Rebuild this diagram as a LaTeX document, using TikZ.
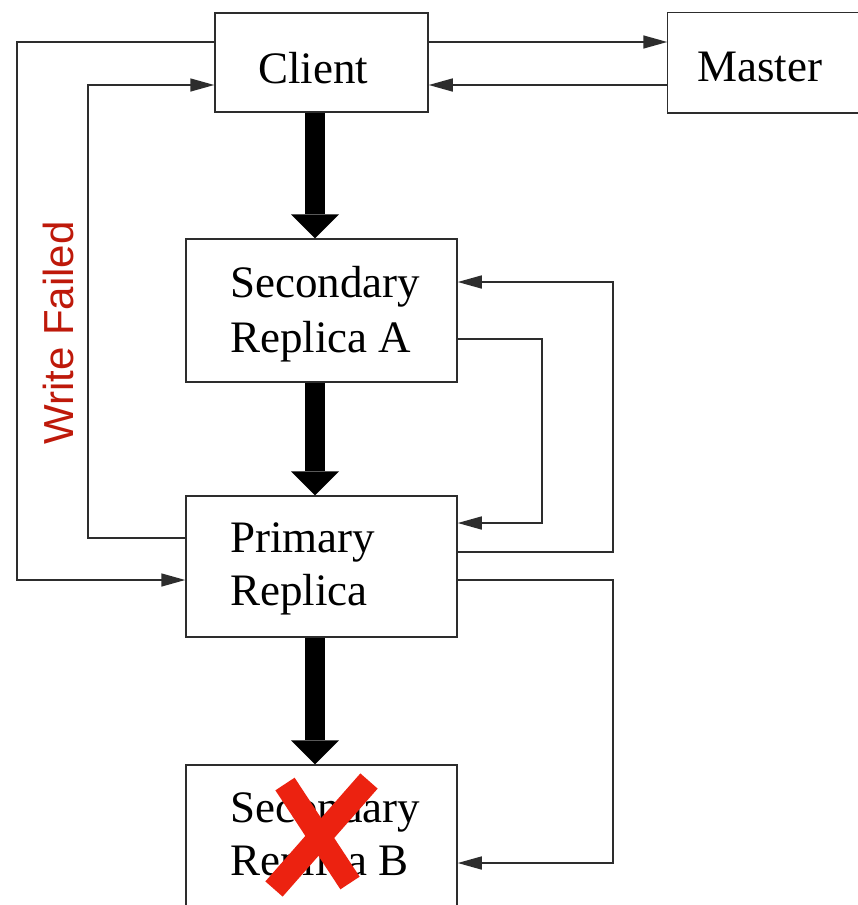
\documentclass[tikz,border=0pt]{standalone}
\usepackage{fontspec}
\setmainfont{Liberation Serif}
\newfontfamily\labelsans{Liberation Sans}
\usetikzlibrary{arrows.meta}
\definecolor{failred}{RGB}{190,25,10}
\definecolor{crossred}{RGB}{236,34,16}
\definecolor{edge}{RGB}{45,45,45}
\tikzset{
  box/.style={draw=edge, line width=1.5pt, fill=white, inner sep=0pt},
  boxtext/.style={anchor=base west, inner sep=0pt, font=\fontsize{45}{54}\selectfont},
  link/.style={draw=edge, line width=1.5pt, -{Triangle[length=24pt,width=13pt]}},
  flow/.style={line width=20pt, -{Triangle[length=24pt,width=48pt,line width=0pt]}},
  crossbar/.style={draw=crossred, line width=23pt},
}
\begin{document}
\begin{tikzpicture}[x=1pt,y=1pt]
\useasboundingbox (0,0) rectangle (858,-905);
\begin{scope}
\clip (0,0) rectangle (858,-905);
\fill[white] (0,0) rectangle (858,-905);

% boxes (Master and replica B run past the edge of the page)
\node[box, minimum width=213pt, minimum height=99pt]  (Client)  at (321.5,-62.5) {};
\node[box, draw=none, minimum width=260pt, minimum height=99pt] (Master) at (798,-62.5) {};
\draw[edge, line width=1.5pt] (Master.north east) -- (Master.north west)
  -- (Master.south west) -- (Master.south east);
\node[box, minimum width=271pt, minimum height=143pt] (SecA)    at (321.5,-310.5) {};
\node[box, minimum width=271pt, minimum height=141pt] (Primary) at (321.5,-566.5) {};
\node[box, minimum width=271pt, minimum height=160pt] (SecB)    at (321.5,-845) {};

% box labels
\node[boxtext] (clientlbl) at (258,-83) {Client};
\node[boxtext] (masterlbl) at (697,-81) {Master};
\node[boxtext] (secAone)   at (230,-297) {Secondary};
\node[boxtext] (secAtwo)   at (230,-352) {Replica A};
\node[boxtext] (primone)   at (230,-552) {Primary};
\node[boxtext] (primtwo)   at (230,-605) {Replica};
\node[boxtext] (secBone)   at (230,-822) {Secondary};
\node[boxtext] (secBtwo)   at (230,-875) {Replica B};

% data flow down the chain
\draw[flow] ([xshift=-6.5pt]Client.south) -- ([xshift=-6.5pt]SecA.north);
\draw[flow] ([xshift=-6.5pt]SecA.south) -- ([xshift=-6.5pt]Primary.north);
\draw[flow] ([xshift=-6.5pt]Primary.south) -- ([xshift=-6.5pt]SecB.north);

% client <-> master
\draw[link] (Client.east |- 0,-42) -- (Master.west |- 0,-42);
\draw[link] (Master.west |- 0,-85) -- (Client.east |- 0,-85);

% client <-> primary
\draw[link] (Client.west |- 0,-42) -| (17,-580) -- (Primary.west |- 0,-580);
\draw[link] (Primary.west |- 0,-538) -| (88,-85) -- (Client.west |- 0,-85);

% control messages between replicas
\draw[link] (SecA.east |- 0,-339) -| (542,-523) -- (Primary.east |- 0,-523);
\draw[link] (Primary.east |- 0,-552) -| (613,-282) -- (SecA.east |- 0,-282);
\draw[link] (Primary.east |- 0,-580) -| (613,-863) -- (SecB.east |- 0,-863);

% failure note
\node[anchor=base west, rotate=90, inner sep=0pt, text=failred,
      font=\labelsans\fontsize{42}{50}\selectfont] (failnote) at (73,-445) {Write Failed};

% replica B is down
\draw[crossbar] (285,-784) -- (350,-883);
\draw[crossbar] (369,-781) -- (274,-889);
\end{scope}
\end{tikzpicture}
\end{document}
